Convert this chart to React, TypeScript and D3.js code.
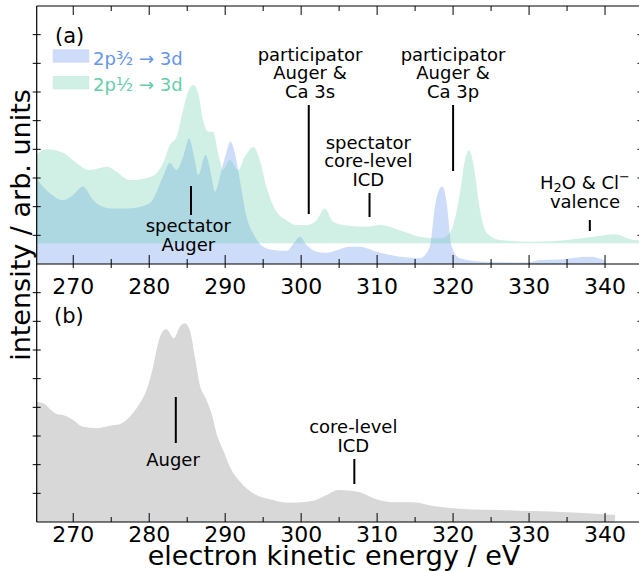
import React from "react";
import * as d3 from "d3";

// ---------- data ----------
const energyBlue = [265.0, 265.15, 266.91, 268.66, 269.97, 271.29, 272.61, 274.81, 277.44, 280.08, 281.83, 282.71, 283.59, 284.46, 285.25, 286.0, 286.44, 287.41, 288.2, 288.64, 289.52, 290.18, 290.7, 291.27, 291.93, 292.81, 293.68, 295.0, 296.31, 298.08, 299.17, 299.83, 300.71, 302.03, 303.35, 306.42, 307.73, 309.93, 313.0, 315.63, 316.95, 317.61, 318.27, 318.62, 319.15, 319.81, 320.9, 323.97, 329.69, 331.44, 334.07, 338.03, 339.78, 340.0];
const intensityBlue = [3.05, 2.99, 2.47, 2.23, 2.41, 2.7, 2.23, 1.94, 1.94, 2.12, 3.05, 3.52, 3.28, 3.74, 4.38, 3.63, 3.1, 3.8, 3.05, 2.52, 3.28, 3.92, 4.27, 3.87, 2.93, 1.65, 1.07, 0.6, 0.49, 0.46, 0.78, 0.95, 0.66, 0.43, 0.39, 0.6, 0.6, 0.43, 0.25, 0.2, 0.6, 2.0, 2.64, 2.7, 2.12, 0.6, 0.2, 0.08, 0.05, 0.14, 0.16, 0.25, 0.14, 0.12];

const greenOffset = 0.72;
const energyGreen = [265.0, 265.15, 266.47, 268.66, 269.93, 272.17, 274.54, 275.69, 277.44, 279.64, 280.96, 281.83, 282.71, 283.59, 284.46, 285.12, 285.78, 286.44, 287.09, 287.75, 288.41, 289.07, 289.73, 290.61, 291.7, 292.59, 293.68, 294.56, 295.44, 296.76, 298.08, 299.4, 300.71, 302.03, 303.12, 304.22, 305.53, 308.61, 310.37, 313.0, 315.63, 318.27, 319.58, 320.9, 321.56, 322.09, 322.65, 323.54, 324.42, 326.17, 330.56, 334.95, 338.46, 341.32, 343.73, 345.5];
const intensityGreen = [3.02, 3.08, 3.28, 3.16, 2.91, 2.56, 2.67, 2.5, 2.21, 2.28, 2.45, 2.8, 3.43, 3.72, 4.65, 5.29, 5.52, 5.24, 4.3, 3.89, 3.89, 3.15, 2.56, 2.91, 2.56, 3.02, 3.36, 2.91, 1.97, 1.1, 0.81, 0.64, 0.64, 0.81, 1.22, 0.75, 0.64, 0.58, 0.64, 0.46, 0.23, 0.17, 0.36, 1.75, 2.91, 3.25, 2.8, 1.16, 0.36, 0.12, 0.06, 0.12, 0.23, 0.32, 0.12, 0.1];

const energyTotal = [265.0, 265.15, 266.02, 267.79, 268.66, 269.97, 271.29, 273.06, 274.81, 276.12, 277.44, 278.76, 279.64, 280.51, 281.17, 281.83, 282.27, 283.24, 284.03, 284.68, 285.34, 286.0, 286.66, 287.54, 288.2, 288.86, 289.73, 290.61, 291.93, 293.68, 295.88, 298.51, 300.71, 301.58, 303.35, 304.87, 307.73, 309.93, 312.12, 314.75, 317.39, 320.02, 322.65, 326.17, 330.56, 334.95, 339.34, 341.32];
const intensityTotal = [4.22, 4.2, 4.14, 3.77, 3.73, 3.56, 3.32, 3.27, 3.36, 3.41, 3.67, 4.14, 4.6, 5.42, 6.23, 6.67, 6.72, 6.41, 6.81, 6.93, 6.7, 5.77, 4.78, 4.26, 3.79, 3.09, 2.51, 1.93, 1.41, 1.0, 0.79, 0.67, 0.71, 0.74, 0.94, 1.12, 1.04, 0.79, 0.69, 0.69, 0.56, 0.48, 0.44, 0.42, 0.38, 0.34, 0.28, 0.24];

const majorTicks = [270, 280, 290, 300, 310, 320, 330, 340];
const minorTicks = [275, 285, 295, 305, 315, 325, 335];
const yTicks = [1, 2, 3, 4, 5, 6, 7, 8];

const legendLabels = ["2p³⁄₂ → 3d", "2p¹⁄₂ → 3d"];

// ---------- layout ----------
const W = 639;
const H = 571;
const LEFT = 36.7;
const RIGHT = 641.5;
const TOP_A = 6;
const BOT_A = 264;
const BOT_B = 522;

const BLUE = "#6495ED";
const GREEN = "#66CDAA";
const FONT = "DejaVu Sans";

export default function App() {
  const x = d3.scaleLinear().domain([265.19, 344.8]).range([LEFT, RIGHT]);
  const yA = d3.scaleLinear().domain([0, 9]).range([BOT_A, TOP_A]);
  const yB = d3.scaleLinear().domain([0, 9]).range([BOT_B, BOT_A]);

  const blue = energyBlue.map((e, i) => ({ e, v: intensityBlue[i] }));
  const green = energyGreen.map((e, i) => ({ e, v: intensityGreen[i] }));
  const total = energyTotal.map((e, i) => ({ e, v: intensityTotal[i] }));

  const blueArea = d3
    .area<{ e: number; v: number }>()
    .x((d) => x(d.e))
    .y0(yA(0))
    .y1((d) => yA(d.v))
    .curve(d3.curveMonotoneX);
  const greenArea = d3
    .area<{ e: number; v: number }>()
    .x((d) => x(d.e))
    .y0(yA(greenOffset))
    .y1((d) => yA(greenOffset + d.v))
    .curve(d3.curveMonotoneX);
  const totalArea = d3
    .area<{ e: number; v: number }>()
    .x((d) => x(d.e))
    .y0(yB(0))
    .y1((d) => yB(d.v))
    .curve(d3.curveMonotoneX);

  const ann = { fontFamily: FONT, fontSize: 18, textAnchor: "middle" as const, fill: "#000" };
  const tickLab = { fontFamily: FONT, fontSize: 22, textAnchor: "middle" as const, fill: "#000" };
  const axisLab = { fontFamily: FONT, fontSize: 27, textAnchor: "middle" as const, fill: "#000" };

  const vline = (e: number, y1: number, y2: number, key: string) => (
    <line key={key} x1={x(e)} x2={x(e)} y1={y1} y2={y2} stroke="#000" strokeWidth={2} />
  );

  return (
    <svg width={W} height={H} style={{ display: "block", position: "absolute", left: 0, top: 0 }}>
      <defs>
        <clipPath id="clipA">
          <rect x={LEFT} y={TOP_A} width={RIGHT - LEFT} height={BOT_A - TOP_A} />
        </clipPath>
        <clipPath id="clipB">
          <rect x={LEFT} y={BOT_A} width={RIGHT - LEFT} height={BOT_B - BOT_A} />
        </clipPath>
      </defs>
      <rect x={0} y={0} width={W} height={H} fill="#fff" />

      {/* panel (a) */}
      <g clipPath="url(#clipA)">
        <path d={blueArea(blue) || ""} fill={BLUE} fillOpacity={0.33} />
        <path d={greenArea(green) || ""} fill={GREEN} fillOpacity={0.3} />
      </g>

      {/* panel (b) */}
      <g clipPath="url(#clipB)">
        <path d={totalArea(total) || ""} fill="#d8d8d8" />
      </g>

      {/* spines */}
      <g stroke="#000" strokeWidth={1.2} fill="none">
        <line x1={LEFT} x2={LEFT} y1={TOP_A} y2={BOT_B} />
        <line x1={RIGHT} x2={RIGHT} y1={TOP_A} y2={BOT_B} />
        <line x1={LEFT} x2={RIGHT} y1={TOP_A} y2={TOP_A} />
        <line x1={LEFT} x2={RIGHT} y1={BOT_A} y2={BOT_A} />
        <line x1={LEFT} x2={RIGHT} y1={BOT_B} y2={BOT_B} />
      </g>

      {/* x ticks */}
      <g stroke="#000" strokeWidth={1}>
        {majorTicks.map((t) => (
          <g key={"M" + t}>
            <line x1={x(t)} x2={x(t)} y1={TOP_A} y2={TOP_A + 9} />
            <line x1={x(t)} x2={x(t)} y1={BOT_A - 9} y2={BOT_A + 4} />
            <line x1={x(t)} x2={x(t)} y1={BOT_B - 9} y2={BOT_B} />
          </g>
        ))}
        {minorTicks.map((t) => (
          <g key={"m" + t}>
            <line x1={x(t)} x2={x(t)} y1={TOP_A} y2={TOP_A + 5} />
            <line x1={x(t)} x2={x(t)} y1={BOT_A - 5} y2={BOT_A + 4} />
            <line x1={x(t)} x2={x(t)} y1={BOT_B - 5} y2={BOT_B} />
          </g>
        ))}
        {yTicks.map((t) => (
          <g key={"y" + t}>
            <line x1={LEFT - 4} x2={LEFT + 4} y1={yA(t)} y2={yA(t)} />
            <line x1={LEFT - 4} x2={LEFT + 4} y1={yB(t)} y2={yB(t)} />
            <line x1={RIGHT - 4} x2={RIGHT + 4} y1={yA(t)} y2={yA(t)} />
            <line x1={RIGHT - 4} x2={RIGHT + 4} y1={yB(t)} y2={yB(t)} />
          </g>
        ))}
      </g>

      {/* tick labels */}
      {majorTicks.map((t) => (
        <g key={"l" + t}>
          <text x={x(t)} y={293.5} {...tickLab}>{t}</text>
          <text x={x(t)} y={542} {...tickLab}>{t}</text>
        </g>
      ))}

      {/* axis labels */}
      <text x={334} y={565} {...axisLab}>electron kinetic energy / eV</text>
      <text transform="translate(29.5,225) rotate(-90)" {...axisLab}>intensity / arb. units</text>

      {/* panel labels */}
      <text x={55} y={42.5} fontFamily={FONT} fontSize={21}>(a)</text>
      <text x={54} y={322.5} fontFamily={FONT} fontSize={21}>(b)</text>

      {/* legend */}
      <rect x={52.7} y={49.3} width={36.6} height={13.4} fill={BLUE} fillOpacity={0.33} />
      <rect x={52.7} y={76} width={36.6} height={13.4} fill={GREEN} fillOpacity={0.3} />
      <text x={93} y={64.5} fontFamily={FONT} fontSize={18} fill={BLUE}>{legendLabels[0]}</text>
      <text x={93} y={90.5} fontFamily={FONT} fontSize={18} fill={GREEN}>{legendLabels[1]}</text>

      {/* annotations panel (a) */}
      <text x={310} y={60.6} {...ann}>participator</text>
      <text x={310} y={79.3} {...ann}>Auger &amp;</text>
      <text x={310} y={98} {...ann}>Ca 3s</text>
      {vline(301, 105, 214, "v1")}

      <text x={453} y={60.6} {...ann}>participator</text>
      <text x={453} y={79.3} {...ann}>Auger &amp;</text>
      <text x={453} y={98} {...ann}>Ca 3p</text>
      {vline(320, 105, 171, "v2")}

      <text x={368.3} y={148.6} {...ann}>spectator</text>
      <text x={368.3} y={167.3} {...ann}>core-level</text>
      <text x={368.3} y={186} {...ann}>ICD</text>
      {vline(309, 193, 217, "v3")}

      <text x={188.3} y={232.3} {...ann}>spectator</text>
      <text x={188.3} y={251} {...ann}>Auger</text>
      {vline(285.5, 186, 215, "v4")}

      <text x={585} y={189} {...ann}>
        H<tspan fontSize={13} dy={3}>2</tspan>
        <tspan dy={-3}>O &amp; Cl</tspan>
        <tspan fontSize={13} dy={-8}>−</tspan>
      </text>
      <text x={585} y={208.3} {...ann}>valence</text>
      {vline(338, 220, 231, "v5")}

      {/* annotations panel (b) */}
      <text x={173} y={466} {...ann}>Auger</text>
      {vline(283.5, 397, 443, "v6")}

      <text x={353.3} y={432.7} {...ann}>core-level</text>
      <text x={353.3} y={452} {...ann}>ICD</text>
      {vline(307, 459, 484, "v7")}
    </svg>
  );
}
